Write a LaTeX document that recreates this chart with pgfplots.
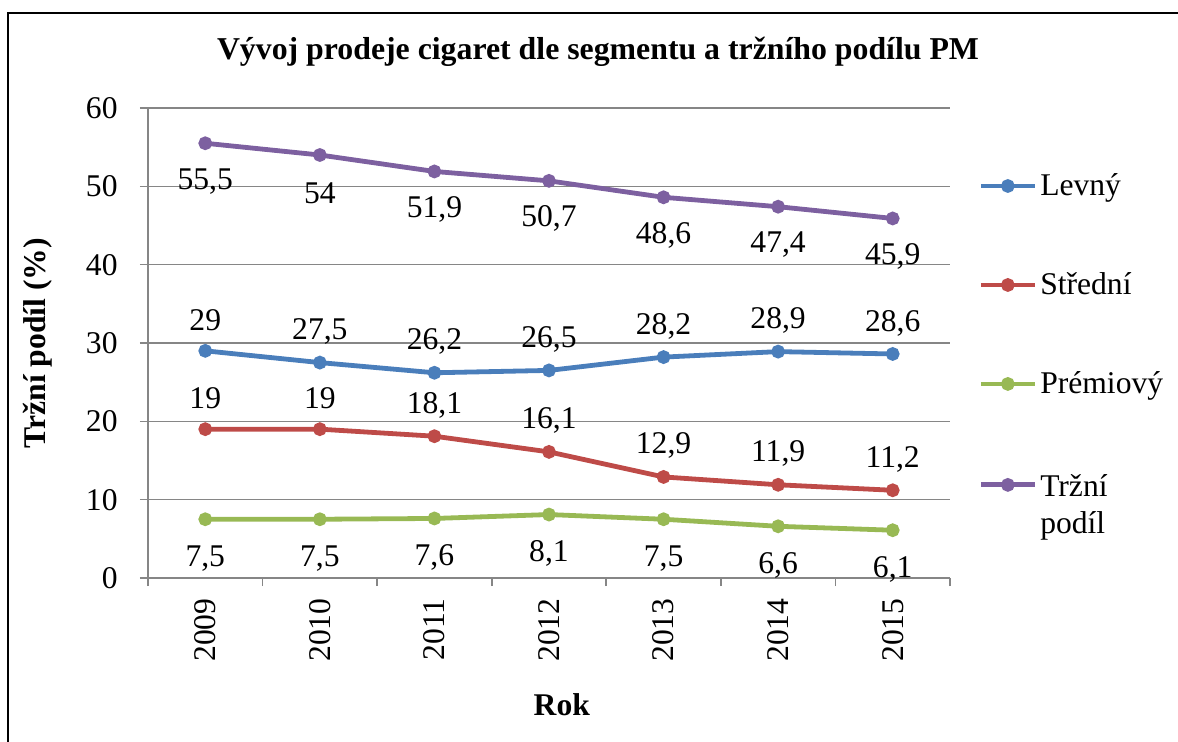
\documentclass[border=0pt]{standalone}
\usepackage{pgfplots}
\pgfplotsset{compat=1.18}
\usepackage{fontspec}
\setmainfont{Liberation Serif}
\definecolor{cLev}{HTML}{4A7EBB}
\definecolor{cStr}{HTML}{BE4B48}
\definecolor{cPre}{HTML}{98B954}
\definecolor{cTrz}{HTML}{7D60A0}
\definecolor{gridc}{HTML}{868686}
\newcommand{\fs}{\fontsize{15.8}{18.5}\selectfont}
\begin{document}
\begin{tikzpicture}
\useasboundingbox (0,0) rectangle (589pt,-371pt);
\draw[line width=1pt] (4pt,-371pt) -- (4pt,-6.5pt) -- (589pt,-6.5pt);
\node[font=\fontsize{15.9}{18}\selectfont\bfseries] at (299pt,-26pt) {Vývoj prodeje cigaret dle segmentu a tržního podílu PM};
\begin{axis}[
  at={(74pt,-289pt)}, anchor=south west,
  scale only axis, width=401pt, height=235pt,
  xmin=-0.5, xmax=6.5, ymin=0, ymax=60,
  xtick={0,...,6},
  xticklabels={2009,2010,2011,2012,2013,2014,2015},
  minor xtick={-0.5,0.5,...,6.5},
  major x tick style={draw=none},
  ytick={0,10,...,60},
  axis x line*=bottom, axis y line*=left,
  axis line style={gridc, line width=0.8pt, -},
  every tick/.style={gridc, line width=0.8pt},
  tick align=outside,
  major tick length=4pt, minor tick length=4pt,
  ymajorgrids, grid style={gridc, line width=0.8pt},
  tick label style={font=\fs},
  /pgf/number format/assume math mode=true,
  /pgf/number format/use comma,
  /pgf/number format/1000 sep={},
  xticklabel style={rotate=90, anchor=east, inner sep=0pt},
  yticklabel style={anchor=east, inner sep=0pt},
  xticklabel shift=6pt,
  yticklabel shift=11pt,
  xlabel={Rok}, ylabel={Tržní podíl (\%)},
  xlabel style={font=\fs\bfseries, at={(axis description cs:0.516,-0.270)}, anchor=center},
  ylabel style={font=\fs\bfseries, at={(axis description cs:-0.137,0.5)}, anchor=center, rotate=0},
  every axis plot/.append style={line width=2.4pt, mark=*, mark size=2.2pt},
  nodes near coords,
  every node near coord/.append style={font=\fs, anchor=center, text=black},
  legend style={at={(axis description cs:1.035,0.870)}, anchor=north west, draw=none, fill=none,
    font=\fs, row sep=33pt, inner sep=0pt, nodes={inner xsep=1.5pt}},
  legend cell align=left,
  legend image code/.code={\draw[mark repeat=2,mark phase=2,#1] plot coordinates {(0pt,0pt) (13.5pt,0pt) (27pt,0pt)};},
  clip=false,
]
\addplot[cLev, every node near coord/.append style={yshift=15.5pt}] coordinates {(0,29) (1,27.5) (2,26.2) (3,26.5) (4,28.2) (5,28.9) (6,28.6)};
\addlegendentry{Levný}
\addplot[cStr, every node near coord/.append style={yshift=15.5pt}] coordinates {(0,19) (1,19) (2,18.1) (3,16.1) (4,12.9) (5,11.9) (6,11.2)};
\addlegendentry{Střední}
\addplot[cPre, every node near coord/.append style={yshift=-19.5pt}] coordinates {(0,7.5) (1,7.5) (2,7.6) (3,8.1) (4,7.5) (5,6.6) (6,6.1)};
\addlegendentry{Prémiový}
\addplot[cTrz, every node near coord/.append style={yshift=-19pt}] coordinates {(0,55.5) (1,54) (2,51.9) (3,50.7) (4,48.6) (5,47.4) (6,45.9)};
\addlegendentry{\begin{tabular}[t]{@{}l@{}}Tržní\\podíl\end{tabular}}
\end{axis}
\end{tikzpicture}
\end{document}
